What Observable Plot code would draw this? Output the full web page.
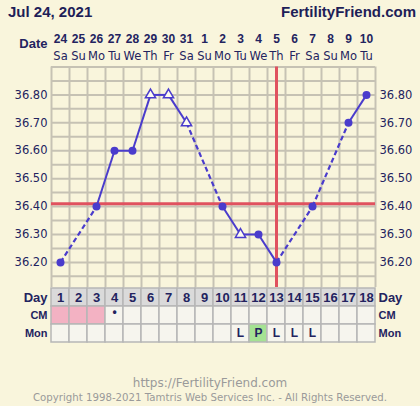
<!DOCTYPE html>
<html><head><meta charset="utf-8">
<script src="https://cdn.jsdelivr.net/npm/d3@7"></script>
<script src="https://cdn.jsdelivr.net/npm/@observablehq/plot@0.6"></script>
<style>
html,body{margin:0;padding:0;background:#f9f5dc;width:420px;height:406px;overflow:hidden}
#title{height:22px;display:flex;justify-content:space-between;align-items:center;padding:1px 4px 0 8px;box-sizing:border-box;font:bold 15px "Liberation Sans",sans-serif;color:#1e1e58}
#chart svg,#table svg{display:block}
#caption{margin-top:33px;text-align:center;color:#9a9a9a;font-family:"DejaVu Sans",sans-serif}
#caption .l1{font-size:12px;line-height:15px}
#caption .l2{font-size:10.2px;line-height:14px}
</style></head>
<body>
<div id="title"><span>Jul 24, 2021</span><span>FertilityFriend.com</span></div>
<div id="chart"></div>
<div id="table"></div>
<div id="caption"><div class="l1">https://FertilityFriend.com</div><div class="l2">Copyright 1998-2021 Tamtris Web Services Inc. - All Rights Reserved.</div></div>
<script>
// ---- data ----
const days = [1,2,3,4,5,6,7,8,9,10,11,12,13,14,15,16,17,18];
const dates = ["24","25","26","27","28","29","30","31","1","2","3","4","5","6","7","8","9","10"];
const weekdays = ["Sa","Su","Mo","Tu","We","Th","Fr","Sa","Su","Mo","Tu","We","Th","Fr","Sa","Su","Mo","Tu"];
const temps = [36.20,null,36.40,36.60,36.60,36.80,36.80,36.70,null,36.40,36.30,36.30,36.20,null,36.40,null,36.70,36.80];
const openDays = [6,7,8,11];
const yTicks = [36.20,36.30,36.40,36.50,36.60,36.70,36.80];
const gridY = [36.15,36.20,36.25,36.30,36.35,36.40,36.45,36.50,36.55,36.60,36.65,36.70,36.75,36.80,36.85,36.90];
const coverline = 36.41;
const ovulationDay = 13;
const cmPinkDays = [1,2,3];
const cmDotDays = [4];
const monDays = [11,12,13,14,15];
const monValues = ["L","P","L","L","L"];
const rows = ["Day","CM","Mon"];

// ---- styles ----
const BLUE = "#4a3ccc", RED = "#e0525f", GRID = "#c6c2b4", NAVY = "#23235f";

const pts = days.map((d,i)=>({day:d,temp:temps[i]})).filter(p=>p.temp!=null);
const segs = [];
for (let i=1;i<pts.length;i++) segs.push({x1:pts[i-1].day,y1:pts[i-1].temp,x2:pts[i].day,y2:pts[i].temp,gap:pts[i].day-pts[i-1].day>1});
const filled = pts.filter(p=>!openDays.includes(p.day));
const open = pts.filter(p=>openDays.includes(p.day));
const gridX = [0.5, ...days.map(d=>d+0.5)];

const chart = Plot.plot({
  width:420, height:265,
  marginTop:44.5, marginBottom:0, marginLeft:51, marginRight:45,
  x:{domain:[0.5,18.5], axis:null},
  y:{domain:[36.11,36.90], axis:null},
  style:{background:"transparent", fontFamily:"DejaVu Sans", color:NAVY, overflow:"visible"},
  marks:[
    Plot.ruleY(gridY,{stroke:GRID,strokeWidth:2}),
    Plot.ruleX(gridX,{stroke:GRID,strokeWidth:2}),
    Plot.ruleY([coverline],{stroke:RED,strokeWidth:3}),
    Plot.ruleX([ovulationDay],{stroke:RED,strokeWidth:3}),
    Plot.link(segs.filter(s=>!s.gap),{x1:"x1",y1:"y1",x2:"x2",y2:"y2",stroke:BLUE,strokeWidth:2}),
    Plot.link(segs.filter(s=>s.gap),{x1:"x1",y1:"y1",x2:"x2",y2:"y2",stroke:BLUE,strokeWidth:2.2,strokeDasharray:"5,3"}),
    Plot.dot(filled,{x:"day",y:"temp",r:4,fill:BLUE}),
    Plot.dot(open,{x:"day",y:"temp",symbol:"triangle",r:3.8,fill:"#fdfbf0",stroke:BLUE,strokeWidth:1.5}),
    Plot.axisY({anchor:"left",ticks:yTicks,tickSize:0,tickPadding:4,tickFormat:d=>d.toFixed(2),fontSize:11.5,label:null}),
    Plot.axisY({anchor:"right",ticks:yTicks,tickSize:0,tickPadding:4,tickFormat:d=>d.toFixed(2),fontSize:11.5,label:null}),
    Plot.text(days,{x:d=>d,text:(d,i)=>dates[i],frameAnchor:"top",dy:-32.5,fontWeight:"bold",fontSize:12,fontFamily:"Liberation Sans",fill:NAVY}),
    Plot.text(days,{x:d=>d,text:(d,i)=>weekdays[i],frameAnchor:"top",dy:-15.5,fontSize:11.5,fill:NAVY}),
    Plot.text(["Date"],{frameAnchor:"top-left",textAnchor:"end",dx:-4,dy:-28,fontWeight:"bold",fontSize:13,fontFamily:"Liberation Sans",fill:NAVY})
  ]
});
document.getElementById("chart").appendChild(chart);

// ---- table ----
const cells = [];
days.forEach(d=>{
  cells.push({day:d,row:"Day",fill:"#dadada",text:String(d)});
  cells.push({day:d,row:"CM",fill:cmPinkDays.includes(d)?"#f3b2c3":"#f6f5ee",text:cmDotDays.includes(d)?"•":""});
  const mi = monDays.indexOf(d);
  cells.push({day:d,row:"Mon",fill:mi>=0&&monValues[mi]==="P"?"#a5e293":"#f6f5ee",text:mi>=0?monValues[mi]:""});
});
const table = Plot.plot({
  width:420, height:56,
  marginTop:0, marginBottom:0, marginLeft:51, marginRight:45,
  x:{type:"band",domain:days,padding:0,axis:null},
  y:{type:"band",domain:rows,padding:0,axis:null},
  style:{background:"transparent",fontFamily:"Liberation Sans",color:NAVY,overflow:"visible"},
  marks:[
    Plot.cell(cells,{x:"day",y:"row",fill:"fill",stroke:"#b6b6b6",strokeWidth:1.5}),
    Plot.text(cells.filter(c=>c.row==="Day"),{x:"day",y:"row",text:"text",fontWeight:"bold",fontSize:13,fill:NAVY}),
    Plot.text(cells.filter(c=>c.row==="CM"&&c.text),{x:"day",y:"row",text:"text",fontWeight:"bold",fontSize:12,dy:-3,fill:NAVY}),
    Plot.text(cells.filter(c=>c.row==="Mon"&&c.text),{x:"day",y:"row",text:"text",fontWeight:"bold",fontSize:12,fill:NAVY}),
    Plot.text(["Day"],{y:d=>d,frameAnchor:"left",textAnchor:"end",dx:-4,fontWeight:"bold",fontSize:13,fill:NAVY}),
    Plot.text(["Day"],{y:d=>d,frameAnchor:"right",textAnchor:"start",dx:3,fontWeight:"bold",fontSize:13,fill:NAVY}),
    Plot.text(["CM","Mon"],{y:d=>d,frameAnchor:"left",textAnchor:"end",dx:-4,fontWeight:"bold",fontSize:11,letterSpacing:"-0.6px",fill:NAVY}),
    Plot.text(["CM","Mon"],{y:d=>d,frameAnchor:"right",textAnchor:"start",dx:3,fontWeight:"bold",fontSize:11,letterSpacing:"-0.6px",fill:NAVY})
  ]
});
document.getElementById("table").appendChild(table);
</script>
</body></html>
